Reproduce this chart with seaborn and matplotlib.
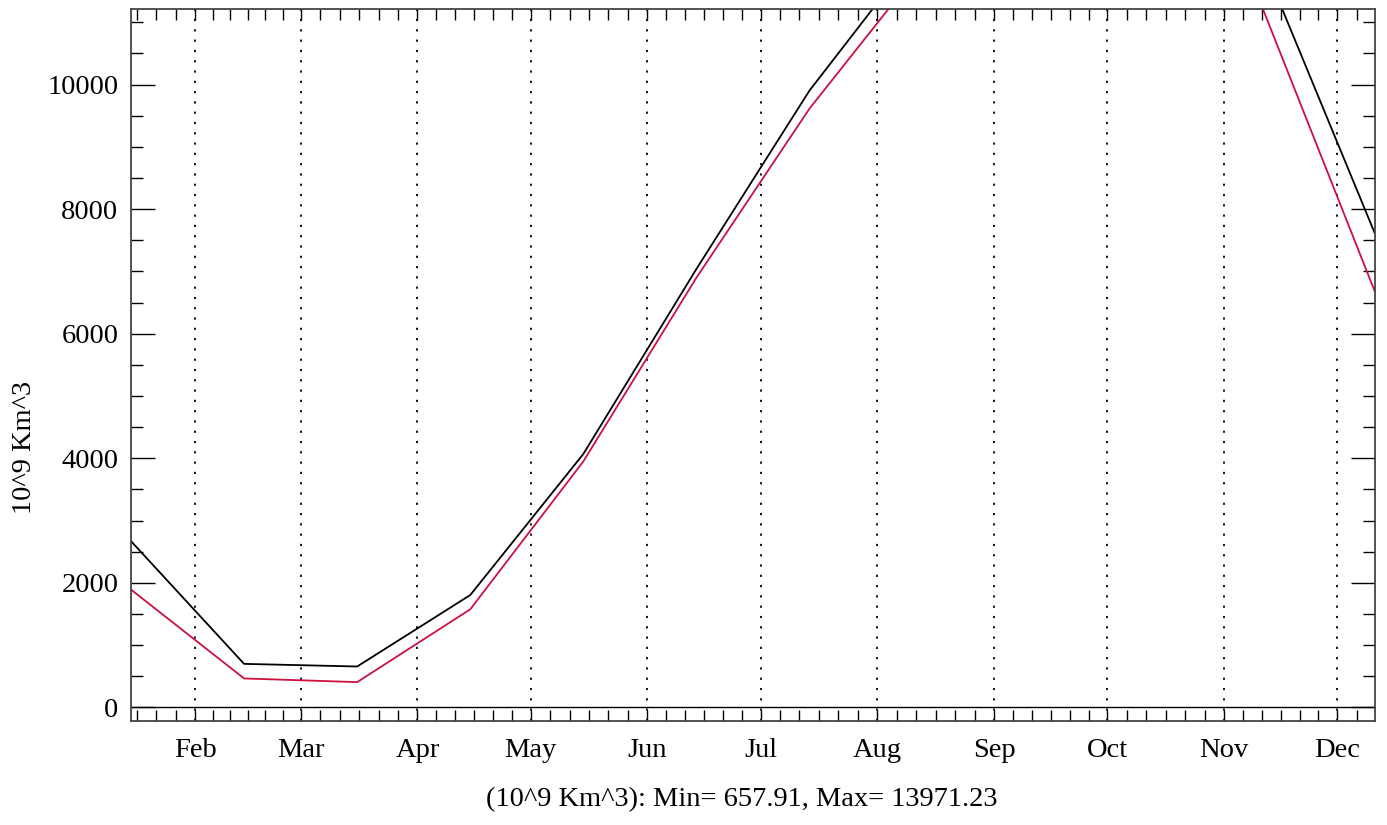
import numpy as np
import pandas as pd
import matplotlib.pyplot as plt
import seaborn as sns

# mid-month sample days (day of year, Jan 1 = 0)
days = [14, 44, 74, 104, 134, 164, 194, 224, 254, 284, 314, 344]
volume_black = [2670, 700, 657.91, 1805, 4070, 7040, 9904, 12250, 13400, 13971.23, 12000, 7604]
volume_red = [1892, 466, 407, 1576, 3950, 6900, 9614, 11904, 12800, 13200, 11252, 6670]

month_starts = [0, 31, 59, 90, 120, 151, 181, 212, 243, 273, 304, 334, 365]
month_labels = ['Jan', 'Feb', 'Mar', 'Apr', 'May', 'Jun', 'Jul', 'Aug',
                'Sep', 'Oct', 'Nov', 'Dec']
caption = '(10^9 Km^3): Min= 657.91, Max= 13971.23'
ylabel = '10^9 Km^3'


def draw():
    sns.set_style('ticks')
    plt.rcParams['font.family'] = ['Liberation Serif', 'DejaVu Serif']
    plt.rcParams['text.color'] = 'black'
    plt.rcParams['xtick.color'] = 'black'
    plt.rcParams['ytick.color'] = 'black'

    fig = plt.figure(figsize=(13.87, 8.25), dpi=100)
    ax = fig.add_axes([131 / 1387, 1 - 721 / 825, (1375 - 131) / 1387, (721 - 9) / 825])

    df = pd.DataFrame({'day': days, 'black': volume_black, 'red': volume_red})
    sns.lineplot(x='day', y='black', data=df, color='black', linewidth=1.3, ax=ax)
    sns.lineplot(x='day', y='red', data=df, color='#cc1040', linewidth=1.3, ax=ax)

    # month boundaries as dotted lines
    for m in month_starts[1:-1]:
        ax.axvline(m, color='black', linestyle=(0, (1.2, 4.5)), linewidth=1.3, zorder=1)
    ax.axhline(0, color='black', linewidth=1.0, zorder=1)

    ax.set_xticks(month_starts[1:-1])
    ax.set_xticklabels(month_labels[1:])
    minor_x = []
    for a, b in zip(month_starts[:-1], month_starts[1:]):
        minor_x += [a + (b - a) * j / 6 for j in range(1, 6)]
    ax.set_xticks(minor_x, minor=True)

    ax.set_yticks(np.arange(0, 11000, 2000))
    ax.set_yticks(np.arange(0, 11500, 500), minor=True)

    ax.set_xlim(days[0], days[-1])
    ax.set_ylim(-217, 11212)

    ax.tick_params(axis='x', which='both', direction='in', top=True, bottom=True,
                   length=8, width=1, labelsize=20.5, pad=12, labelcolor='black')
    ax.tick_params(axis='y', which='major', direction='in', left=True, right=True,
                   length=17, width=1, labelsize=20.5, pad=9, labelcolor='black')
    ax.tick_params(axis='y', which='minor', direction='in', left=True, right=True,
                   length=8.5, width=1)

    for s in ax.spines.values():
        s.set_color('#444444')
        s.set_linewidth(1.3)

    ax.set_xlabel('')
    ax.set_ylabel('')
    fig.text(742 / 1387, 1 - 800 / 825, caption, ha='center', va='center',
             fontsize=20.5, color='black')
    fig.text(25 / 1387, 1 - 447 / 825, ylabel, ha='center', va='center',
             rotation=90, fontsize=20.5, color='black')

    fig.savefig('out.png', dpi=100)


if __name__ == '__main__':
    draw()
